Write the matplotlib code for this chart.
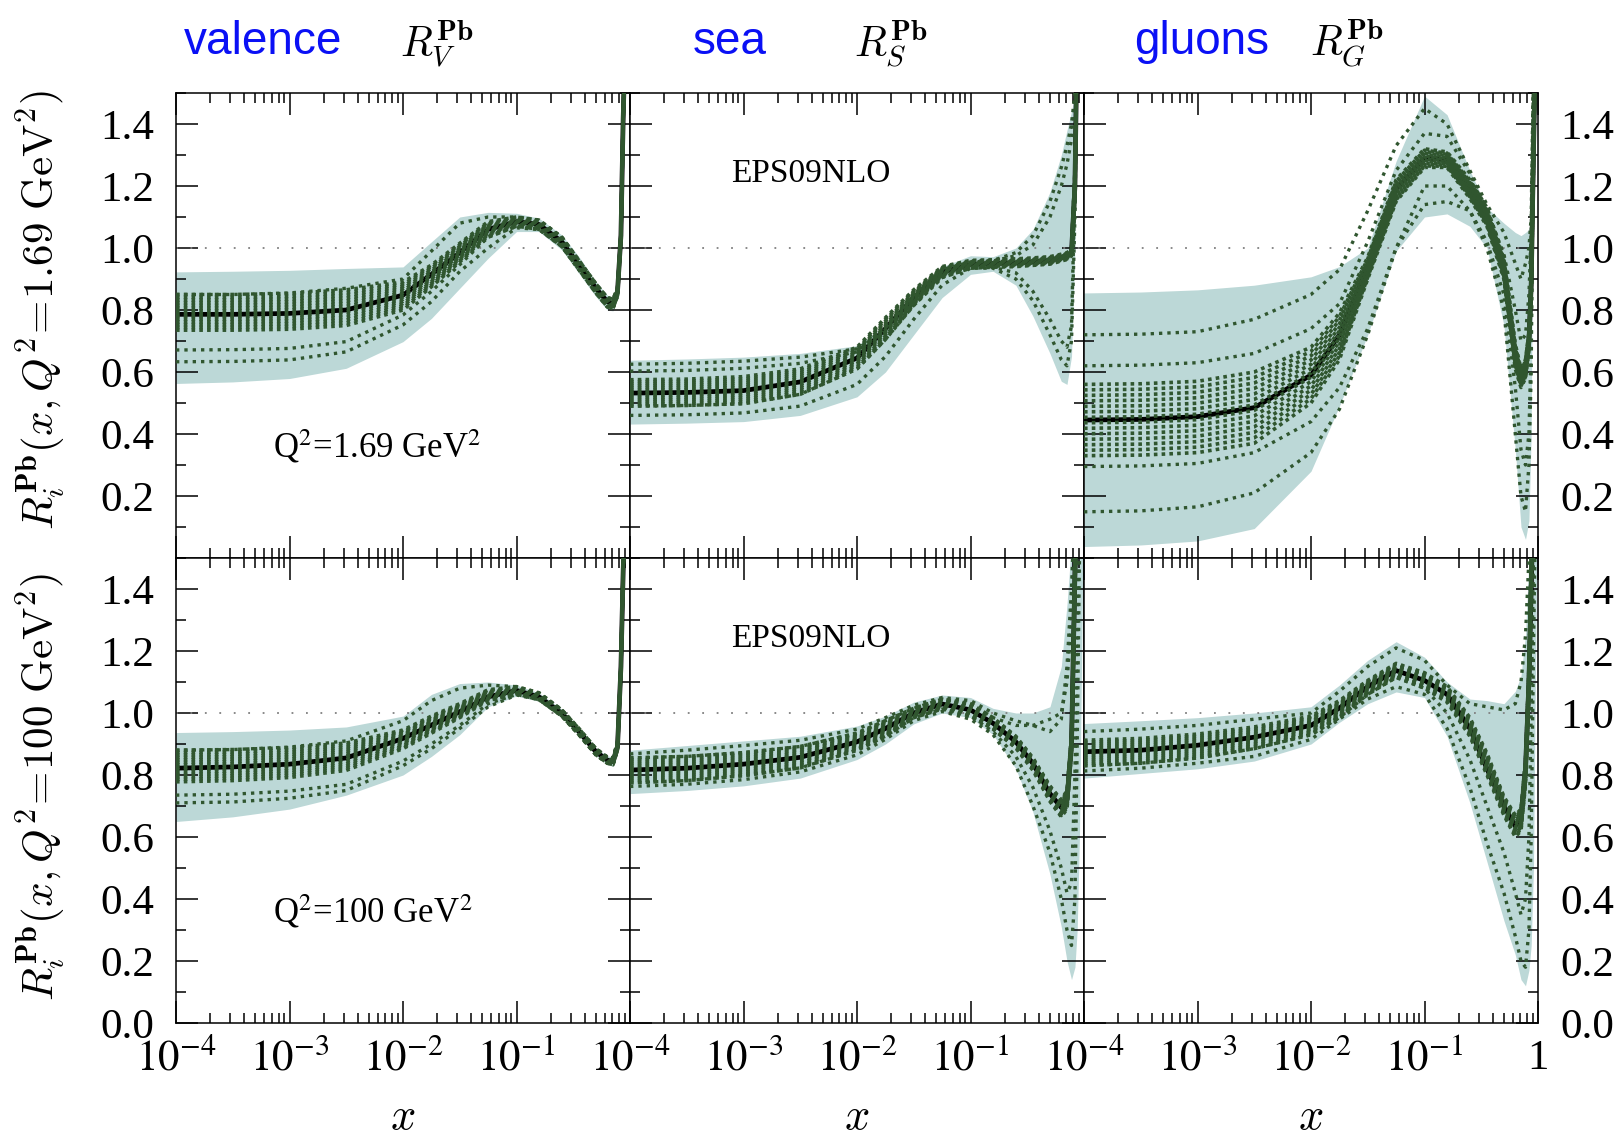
import matplotlib
matplotlib.use("Agg")
import matplotlib.pyplot as plt
import matplotlib.ticker as ticker
import numpy as np

plt.rcParams['font.family'] = ['Liberation Serif', 'DejaVu Serif']
plt.rcParams['mathtext.fontset'] = 'stix'

# x grid shared by all curves (read positions along the log axis)
X = [1e-4, 3.16e-4, 1e-3, 3.16e-3, 0.01, 0.0178, 0.0316, 0.0562, 0.1, 0.158, 0.251,
     0.355, 0.501, 0.631, 0.708, 0.776, 0.832, 0.871, 0.912, 0.955, 0.99]

# ---- valence, Q^2 = 1.69 GeV^2 ----
V1_CEN = [0.786, 0.786, 0.789, 0.80, 0.848, 0.915, 0.985, 1.06, 1.085, 1.076, 1.02, 0.945, 0.87, 0.827, 0.82, 0.859, 1.04, 1.42, 1.7, 1.7, 1.7]
V1_UP = [0.923, 0.925, 0.928, 0.934, 0.939, 1.02, 1.10, 1.115, 1.112, 1.096, 1.042, 0.972, 0.891, 0.848, 0.838, 0.88, 1.06, 1.44, 1.7, 1.7, 1.7]
V1_LO = [0.563, 0.568, 0.579, 0.612, 0.698, 0.773, 0.87, 0.967, 1.053, 1.053, 0.994, 0.918, 0.843, 0.80, 0.797, 0.838, 1.02, 1.40, 1.7, 1.7, 1.7]
V1_BHI = [0.85, 0.85, 0.853, 0.865, 0.89, 0.945, 1.015, 1.085, 1.10, 1.09, 1.035, 0.96, 0.885, 0.84, 0.835, 0.87, 1.05, 1.43, 1.7, 1.7, 1.7]
V1_BLO = [0.735, 0.735, 0.738, 0.75, 0.80, 0.875, 0.955, 1.035, 1.07, 1.06, 1.005, 0.93, 0.855, 0.81, 0.805, 0.845, 1.03, 1.41, 1.7, 1.7, 1.7]
V1_SETS = [
    [0.671, 0.672, 0.676, 0.698, 0.784, 0.86, 0.946, 1.035, 1.07, 1.06, 1.005, 0.93, 0.855, 0.81, 0.805, 0.845, 1.03, 1.41, 1.7, 1.7, 1.7],
    [0.633, 0.634, 0.639, 0.665, 0.752, 0.827, 0.924, 1.0, 1.065, 1.06, 1.005, 0.93, 0.855, 0.81, 0.805, 0.845, 1.03, 1.41, 1.7, 1.7, 1.7],
    [0.85, 0.85, 0.855, 0.87, 0.90, 0.99, 1.08, 1.10, 1.10, 1.09, 1.035, 0.96, 0.885, 0.84, 0.835, 0.87, 1.05, 1.43, 1.7, 1.7, 1.7],
]

# ---- valence, Q^2 = 100 GeV^2 ----
V2_CEN = [0.822, 0.826, 0.835, 0.855, 0.918, 0.961, 1.004, 1.052, 1.073, 1.052, 0.999, 0.94, 0.875, 0.848, 0.843, 0.891, 1.149, 1.46, 1.7, 1.7, 1.7]
V2_UP = [0.937, 0.94, 0.945, 0.955, 0.99, 1.06, 1.095, 1.10, 1.09, 1.065, 1.012, 0.953, 0.888, 0.862, 0.858, 0.91, 1.17, 1.49, 1.7, 1.7, 1.7]
V2_LO = [0.65, 0.665, 0.69, 0.735, 0.80, 0.86, 0.93, 1.02, 1.055, 1.038, 0.985, 0.927, 0.862, 0.834, 0.828, 0.875, 1.13, 1.45, 1.7, 1.7, 1.7]
V2_BHI = [0.88, 0.882, 0.888, 0.903, 0.945, 0.99, 1.03, 1.075, 1.085, 1.065, 1.01, 0.95, 0.885, 0.858, 0.855, 0.905, 1.16, 1.48, 1.7, 1.7, 1.7]
V2_BLO = [0.778, 0.782, 0.792, 0.815, 0.885, 0.935, 0.985, 1.04, 1.062, 1.043, 0.99, 0.93, 0.865, 0.838, 0.833, 0.88, 1.14, 1.46, 1.7, 1.7, 1.7]
V2_SETS = [
    [0.735, 0.738, 0.748, 0.77, 0.845, 0.90, 0.96, 1.03, 1.06, 1.043, 0.99, 0.93, 0.865, 0.838, 0.833, 0.88, 1.14, 1.46, 1.7, 1.7, 1.7],
    [0.71, 0.713, 0.725, 0.75, 0.83, 0.885, 0.95, 1.02, 1.058, 1.043, 0.99, 0.93, 0.865, 0.838, 0.833, 0.88, 1.14, 1.46, 1.7, 1.7, 1.7],
    [0.88, 0.882, 0.89, 0.91, 0.975, 1.04, 1.08, 1.09, 1.085, 1.065, 1.01, 0.95, 0.885, 0.858, 0.855, 0.905, 1.16, 1.48, 1.7, 1.7, 1.7],
]

# ---- sea, Q^2 = 1.69 GeV^2 ----
S1_CEN = [0.532, 0.534, 0.54, 0.568, 0.645, 0.74, 0.84, 0.922, 0.947, 0.95, 0.952, 0.955, 0.96, 0.97, 0.975, 0.985, 1.2, 1.7, 1.7, 1.7, 1.7]
S1_UP = [0.638, 0.642, 0.648, 0.66, 0.685, 0.75, 0.85, 0.94, 0.975, 0.972, 1.0, 1.06, 1.18, 1.3, 1.38, 1.44, 1.5, 1.7, 1.7, 1.7, 1.7]
S1_LO = [0.432, 0.435, 0.44, 0.46, 0.52, 0.60, 0.72, 0.84, 0.915, 0.925, 0.88, 0.78, 0.66, 0.57, 0.56, 0.65, 1.0, 1.7, 1.7, 1.7, 1.7]
S1_BHI = [0.575, 0.577, 0.585, 0.61, 0.68, 0.775, 0.865, 0.94, 0.96, 0.962, 0.965, 0.968, 0.972, 0.98, 0.985, 0.995, 1.25, 1.7, 1.7, 1.7, 1.7]
S1_BLO = [0.49, 0.492, 0.498, 0.528, 0.61, 0.705, 0.815, 0.905, 0.935, 0.938, 0.94, 0.944, 0.948, 0.958, 0.963, 0.975, 1.15, 1.7, 1.7, 1.7, 1.7]
S1_SETS = [
    [0.625, 0.628, 0.635, 0.648, 0.675, 0.73, 0.83, 0.925, 0.955, 0.96, 0.985, 1.04, 1.15, 1.26, 1.33, 1.4, 1.5, 1.7, 1.7, 1.7, 1.7],
    [0.603, 0.605, 0.612, 0.628, 0.665, 0.745, 0.845, 0.93, 0.955, 0.958, 0.975, 1.01, 1.1, 1.2, 1.27, 1.35, 1.45, 1.7, 1.7, 1.7, 1.7],
    [0.46, 0.462, 0.468, 0.49, 0.56, 0.65, 0.77, 0.88, 0.935, 0.935, 0.90, 0.83, 0.72, 0.64, 0.62, 0.70, 1.1, 1.7, 1.7, 1.7, 1.7],
    [0.49, 0.492, 0.498, 0.528, 0.61, 0.705, 0.815, 0.905, 0.935, 0.938, 0.92, 0.86, 0.77, 0.70, 0.68, 0.75, 1.2, 1.7, 1.7, 1.7, 1.7],
]

# ---- sea, Q^2 = 100 GeV^2 ----
S2_CEN = [0.816, 0.822, 0.835, 0.857, 0.907, 0.95, 1.0, 1.029, 1.01, 0.967, 0.907, 0.837, 0.74, 0.695, 0.72, 0.9, 1.45, 1.7, 1.7, 1.7, 1.7]
S2_UP = [0.88, 0.895, 0.91, 0.925, 0.958, 0.99, 1.035, 1.058, 1.05, 1.015, 1.0, 1.0, 1.02, 1.15, 1.35, 1.55, 1.7, 1.7, 1.7, 1.7, 1.7]
S2_LO = [0.74, 0.75, 0.765, 0.79, 0.85, 0.9, 0.965, 1.0, 0.985, 0.93, 0.82, 0.68, 0.48, 0.31, 0.2, 0.14, 0.18, 0.3, 0.6, 1.2, 1.7]
S2_BHI = [0.855, 0.86, 0.872, 0.892, 0.935, 0.975, 1.015, 1.045, 1.03, 0.985, 0.925, 0.855, 0.765, 0.72, 0.75, 0.93, 1.5, 1.7, 1.7, 1.7, 1.7]
S2_BLO = [0.775, 0.782, 0.798, 0.823, 0.88, 0.925, 0.985, 1.013, 0.99, 0.948, 0.887, 0.815, 0.715, 0.665, 0.69, 0.87, 1.4, 1.7, 1.7, 1.7, 1.7]
S2_SETS = [
    [0.868, 0.88, 0.895, 0.912, 0.948, 0.985, 1.025, 1.05, 1.04, 1.0, 0.975, 0.96, 0.94, 0.98, 1.15, 1.4, 1.7, 1.7, 1.7, 1.7, 1.7],
    [0.763, 0.77, 0.785, 0.81, 0.865, 0.915, 0.975, 1.005, 0.98, 0.93, 0.83, 0.70, 0.55, 0.40, 0.3, 0.25, 0.4, 0.9, 1.5, 1.7, 1.7],
    [0.775, 0.782, 0.798, 0.823, 0.88, 0.925, 0.985, 1.013, 0.99, 0.94, 0.86, 0.76, 0.62, 0.5, 0.42, 0.45, 0.8, 1.3, 1.7, 1.7, 1.7],
    [0.855, 0.86, 0.872, 0.892, 0.935, 0.975, 1.015, 1.045, 1.03, 0.985, 0.96, 0.96, 0.98, 1.0, 1.1, 1.3, 1.6, 1.7, 1.7, 1.7, 1.7],
]

# ---- gluons, Q^2 = 1.69 GeV^2 ----
G1_CEN = [0.445, 0.447, 0.456, 0.485, 0.59, 0.72, 0.94, 1.19, 1.29, 1.285, 1.19, 1.1, 0.93, 0.65, 0.58, 0.61, 0.70, 0.88, 1.3, 1.7, 1.7]
G1_UP = [0.855, 0.858, 0.865, 0.88, 0.907, 0.94, 1.0, 1.28, 1.49, 1.43, 1.25, 1.13, 1.08, 1.05, 1.04, 1.05, 1.06, 1.1, 1.6, 1.7, 1.7]
G1_LO = [0.037, 0.042, 0.055, 0.095, 0.28, 0.49, 0.72, 0.99, 1.1, 1.11, 1.07, 1.0, 0.75, 0.35, 0.1, 0.06, 0.12, 0.4, 1.4, 1.7, 1.7]
G1_BHI = [0.56, 0.562, 0.57, 0.6, 0.68, 0.79, 0.97, 1.22, 1.32, 1.31, 1.22, 1.13, 0.97, 0.69, 0.61, 0.64, 0.73, 0.92, 1.35, 1.7, 1.7]
G1_BLO = [0.33, 0.332, 0.34, 0.37, 0.50, 0.64, 0.90, 1.15, 1.26, 1.26, 1.16, 1.07, 0.90, 0.61, 0.55, 0.58, 0.67, 0.84, 1.25, 1.7, 1.7]
G1_SETS = [
    [0.72, 0.722, 0.73, 0.77, 0.85, 0.93, 1.12, 1.33, 1.45, 1.40, 1.25, 1.14, 1.05, 0.95, 0.9, 0.95, 1.0, 1.1, 1.6, 1.7, 1.7],
    [0.62, 0.622, 0.63, 0.66, 0.74, 0.82, 1.02, 1.25, 1.37, 1.36, 1.24, 1.12, 0.98, 0.8, 0.7, 0.72, 0.85, 1.05, 1.55, 1.7, 1.7],
    [0.295, 0.297, 0.305, 0.34, 0.44, 0.55, 0.74, 1.0, 1.14, 1.15, 1.12, 1.02, 0.85, 0.55, 0.35, 0.30, 0.40, 0.70, 1.5, 1.7, 1.7],
    [0.149, 0.152, 0.165, 0.21, 0.34, 0.48, 0.72, 1.0, 1.2, 1.2, 1.12, 1.0, 0.8, 0.4, 0.2, 0.15, 0.3, 0.6, 1.5, 1.7, 1.7],
]

# ---- gluons, Q^2 = 100 GeV^2 ----
G2_CEN = [0.875, 0.88, 0.896, 0.922, 0.96, 1.016, 1.085, 1.137, 1.105, 1.06, 0.95, 0.82, 0.70, 0.635, 0.66, 0.82, 1.1, 1.4, 1.7, 1.7, 1.7]
G2_UP = [0.966, 0.975, 0.985, 1.0, 1.02, 1.09, 1.17, 1.23, 1.18, 1.1, 1.045, 1.04, 1.03, 1.07, 1.12, 1.25, 1.5, 1.7, 1.7, 1.7, 1.7]
G2_LO = [0.79, 0.805, 0.82, 0.845, 0.9, 0.97, 1.03, 1.068, 1.05, 0.925, 0.71, 0.52, 0.33, 0.22, 0.14, 0.12, 0.17, 0.25, 0.5, 1.2, 1.7]
G2_BHI = [0.912, 0.918, 0.932, 0.955, 0.99, 1.04, 1.105, 1.16, 1.13, 1.085, 0.985, 0.87, 0.73, 0.67, 0.69, 0.85, 1.15, 1.5, 1.7, 1.7, 1.7]
G2_BLO = [0.83, 0.838, 0.855, 0.885, 0.93, 0.985, 1.06, 1.115, 1.08, 1.035, 0.925, 0.80, 0.67, 0.60, 0.62, 0.77, 1.05, 1.4, 1.7, 1.7, 1.7]
G2_SETS = [
    [0.94, 0.948, 0.96, 0.98, 1.0, 1.07, 1.15, 1.21, 1.17, 1.09, 1.03, 1.02, 1.01, 1.03, 1.1, 1.25, 1.5, 1.7, 1.7, 1.7, 1.7],
    [0.813, 0.822, 0.838, 0.86, 0.915, 0.98, 1.045, 1.085, 1.06, 0.95, 0.76, 0.58, 0.42, 0.28, 0.2, 0.18, 0.3, 0.6, 1.2, 1.7, 1.7],
    [0.83, 0.838, 0.855, 0.885, 0.93, 0.985, 1.06, 1.115, 1.08, 1.0, 0.85, 0.70, 0.55, 0.42, 0.35, 0.4, 0.6, 1.0, 1.5, 1.7, 1.7],
]

TITLES = ['valence', 'sea', 'gluons']
R_LABELS = [r'$R_V^{\mathbf{Pb}}$', r'$R_S^{\mathbf{Pb}}$', r'$R_G^{\mathbf{Pb}}$']
Q2_TEXT = [r'Q$^2$=1.69 GeV$^2$', r'Q$^2$=100 GeV$^2$']
Y_LABELS = [r'$R_i^{\mathbf{Pb}}(x,Q^2\!=\!1.69\ \mathrm{GeV}^2)$',
            r'$R_i^{\mathbf{Pb}}(x,Q^2\!=\!100\ \mathrm{GeV}^2)$']
XTICK_POS = [1e-4, 1e-3, 1e-2, 1e-1, 1]
XTICK_LAB = [r'$10^{-4}$', r'$10^{-3}$', r'$10^{-2}$', r'$10^{-1}$', '1']

PANELS = [
    [(V1_CEN, V1_UP, V1_LO, V1_BHI, V1_BLO, V1_SETS),
     (S1_CEN, S1_UP, S1_LO, S1_BHI, S1_BLO, S1_SETS),
     (G1_CEN, G1_UP, G1_LO, G1_BHI, G1_BLO, G1_SETS)],
    [(V2_CEN, V2_UP, V2_LO, V2_BHI, V2_BLO, V2_SETS),
     (S2_CEN, S2_UP, S2_LO, S2_BHI, S2_BLO, S2_SETS),
     (G2_CEN, G2_UP, G2_LO, G2_BHI, G2_BLO, G2_SETS)],
]

BAND = '#bcd8d7'
SETC = '#30562f'
N_BUNDLE = 14
W, H = 1623, 1144

fig = plt.figure(figsize=(W / 100, H / 100), dpi=100)

for row in range(2):
    for col in range(3):
        cen, up, lo, bhi, blo, sets = PANELS[row][col]
        left = (176 + 454 * col) / W
        bottom = (H - (558 + 465 * row)) / H
        ax = fig.add_axes([left, bottom, 454 / W, 465 / H])

        ax.fill_between(X, lo, up, color=BAND, lw=0, zorder=1)
        ax.axhline(1.0, color='#808080', lw=1.3, dashes=(1, 7), zorder=2)
        ax.plot(X, cen, color='black', lw=3.4, zorder=3)

        # dense bundle of error sets around the central fit
        bhi_a, blo_a = np.array(bhi), np.array(blo)
        for k in range(N_BUNDLE):
            f = k / (N_BUNDLE - 1)
            ax.plot(X, blo_a + f * (bhi_a - blo_a), color=SETC, lw=2.6,
                    dashes=(1, 1.15), zorder=4)
        for s in sets:
            ax.plot(X, s, color=SETC, lw=2.4, dashes=(1, 1.5), zorder=4)

        ax.set_xscale('log')
        ax.set_xlim(1e-4, 1)
        ax.set_ylim(0, 1.5)
        ax.set_xticks(XTICK_POS)
        labs = list(XTICK_LAB)
        if col < 2:
            labs[-1] = ''
        ax.set_xticklabels(labs)
        ax.xaxis.set_minor_locator(ticker.LogLocator(base=10, subs=np.arange(2, 10), numticks=20))
        ax.xaxis.set_minor_formatter(ticker.NullFormatter())
        if row == 0:
            ax.set_yticks([0.2, 0.4, 0.6, 0.8, 1.0, 1.2, 1.4])
        else:
            ax.set_yticks([0.0, 0.2, 0.4, 0.6, 0.8, 1.0, 1.2, 1.4])
        ax.yaxis.set_major_formatter(ticker.FormatStrFormatter('%.1f'))
        ax.yaxis.set_minor_locator(ticker.MultipleLocator(0.1))

        ax.tick_params(which='both', direction='in', top=True, right=True,
                       width=1.1, color='black', labelsize=31)
        ax.tick_params(which='major', length=16)
        ax.tick_params(which='minor', length=7.5)
        ax.tick_params(axis='y', pad=16)
        ax.tick_params(axis='x', pad=12)
        ax.tick_params(labelbottom=(row == 1), labelleft=(col == 0),
                       labelright=(col == 2))
        for sp in ax.spines.values():
            sp.set_linewidth(1.1)

        if col == 0:
            ax.text(0.214, 0.217, Q2_TEXT[row], transform=ax.transAxes,
                    fontsize=25, ha='left', va='baseline')
        if col == 1:
            ax.text(0.399, 0.826, 'EPS09NLO', transform=ax.transAxes,
                    fontsize=24, ha='center', va='center')

# titles above the columns
for col, (t, r) in enumerate(zip(TITLES, R_LABELS)):
    cx = [263, 730, 1202][col]
    rx = [437, 891, 1347][col]
    fig.text(cx / W, 1 - 42 / H, t, color='#0a10f5', fontsize=33,
             family=['Liberation Sans'], ha='center', va='center')
    fig.text(rx / W, 1 - 44 / H, r, fontsize=30, math_fontfamily='cm',
             ha='center', va='center')
    fig.text((403 + 454 * col) / W, 1 - 1118 / H, r'$x$', fontsize=32,
             math_fontfamily='cm', ha='center', va='center')

for row in range(2):
    fig.text(41 / W, 1 - (310 + 477 * row) / H, Y_LABELS[row], rotation=90,
             fontsize=31, math_fontfamily='cm', ha='center', va='center')

fig.savefig('out.png', dpi=100)
